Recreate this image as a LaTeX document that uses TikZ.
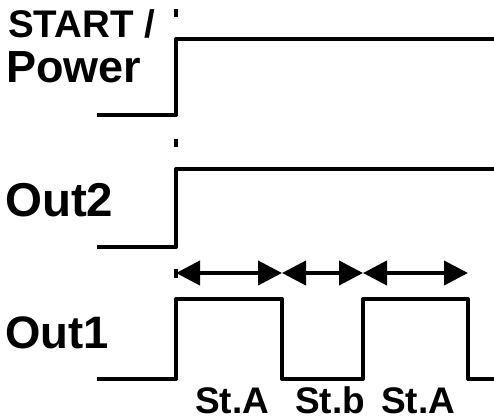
\documentclass[tikz,border=0pt]{standalone}
\usepackage{fontspec}
\setmainfont{Liberation Sans}
\usetikzlibrary{arrows.meta}
\begin{document}
\begin{tikzpicture}[x=1pt,y=-1pt,
  sig/.style={line width=4pt,line join=round,line cap=butt},
  tickmark/.style={line width=4pt},
  span/.style={line width=4pt,{Triangle[length=24pt,width=24pt]}-{Triangle[length=24pt,width=24pt]}},
  lbl/.style={inner sep=0pt,anchor=base west,text depth=0pt},
  stlabel/.style={inner sep=0pt,anchor=base,text depth=0pt,font=\bfseries\fontsize{37}{37}\selectfont}]
\useasboundingbox (0,0) rectangle (494,419);
% labels
\node[lbl,font=\bfseries\fontsize{38.5}{38.5}\selectfont] (start) at (8,38) {START /};
\node[lbl,font=\bfseries\fontsize{45}{45}\selectfont] (power) at (6,83) {Power};
\node[lbl,font=\bfseries\fontsize{47.5}{47.5}\selectfont] (out2) at (5,217) {Out2};
\node[lbl,font=\bfseries\fontsize{45.5}{45.5}\selectfont] (out1) at (5,348) {Out1};
\node[stlabel] (sta1) at (232,413) {St.A};
\node[stlabel] (stb) at (330,413) {St.b};
\node[stlabel] (sta2) at (418,413) {St.A};
% waveforms
\draw[sig] (97,115) -- (176,115) -- (176,39) -- (496,39);
\draw[sig] (97,247) -- (176,247) -- (176,169) -- (496,169);
\draw[sig] (97,379) -- (176,379) -- (176,299) -- (282,299) -- (282,379)
  -- (363,379) -- (363,299) -- (468,299) -- (468,379) -- (496,379);
% ticks
\draw[tickmark] (176,9) -- (176,17);
\draw[tickmark] (176,139) -- (176,147);
\draw[tickmark] (176,269) -- (176,278);
% spans
\coordinate (t0) at (176,273);
\coordinate (t1) at (282,273);
\coordinate (t2) at (363,273);
\coordinate (t3) at (468,273);
\draw[span] (t0) -- (t1);
\draw[span] (t1) -- (t2);
\draw[span] (t2) -- (t3);
\end{tikzpicture}
\end{document}
